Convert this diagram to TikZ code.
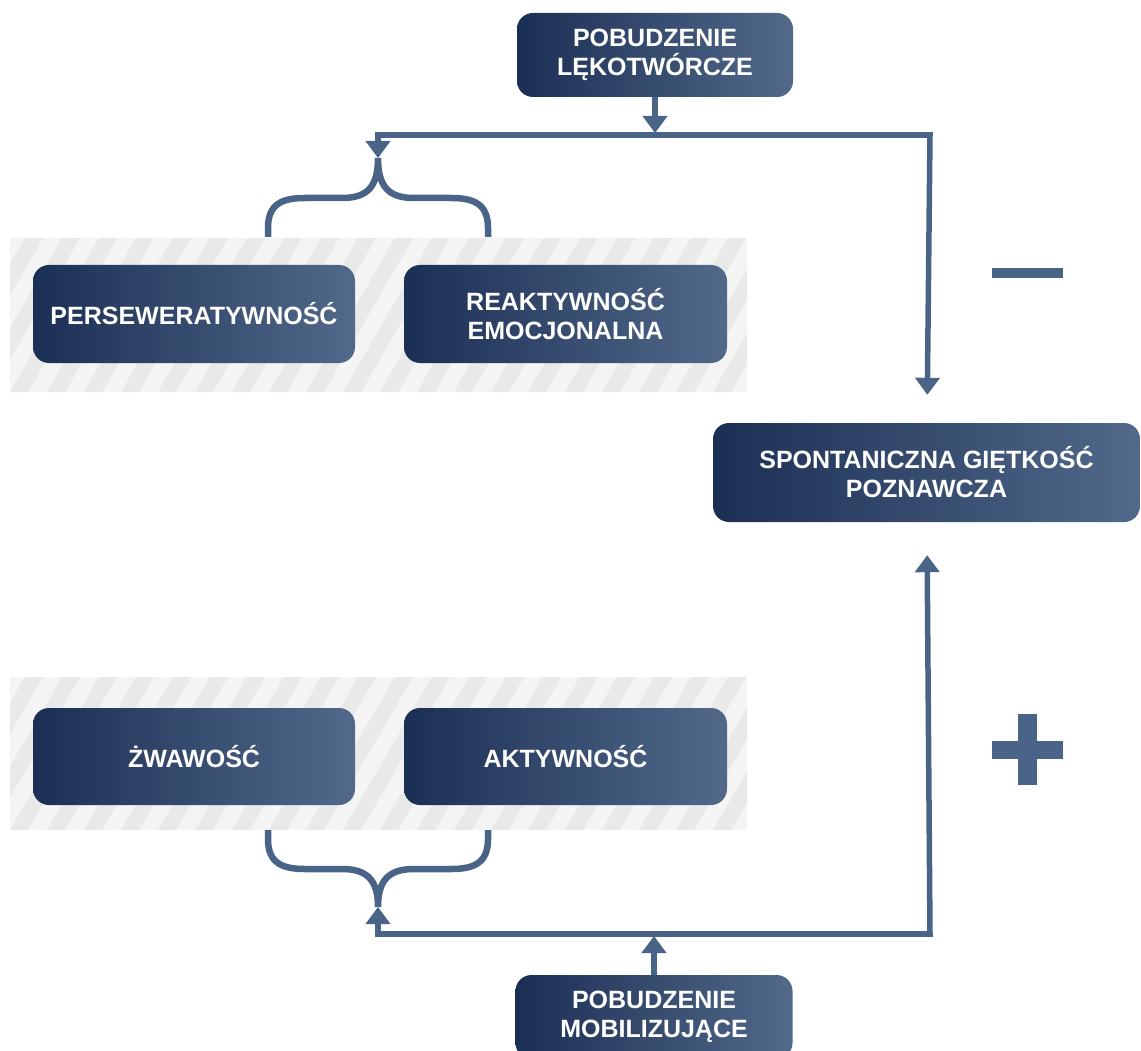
\documentclass[tikz,border=0pt]{standalone}
\usepackage{fontspec}
\setmainfont{Liberation Sans}
\usetikzlibrary{arrows.meta}
\definecolor{navyL}{HTML}{1B2F54}
\definecolor{navyR}{HTML}{52698A}
\definecolor{linec}{HTML}{4A6488}
\definecolor{bandbg}{HTML}{F4F4F4}
\definecolor{bandst}{HTML}{E9E9E9}
\tikzset{
  box/.style={rounded corners=16pt, left color=navyL, right color=navyR, text=white,
    font=\bfseries\fontsize{25}{29}\selectfont, align=center, inner sep=0pt},
  conn/.style={draw=linec, line width=5.5pt},
  tip/.style={-{Triangle[width=24pt,length=17pt]}},
  brace/.style={draw=linec, line width=6.5pt},
}
\begin{document}
\begin{tikzpicture}[x=1pt,y=-1pt]
    \useasboundingbox (0,0) rectangle (1141,1051);
    % hatched bands behind the two pairs of boxes
    \foreach \yt/\yb in {238/392,677/830} {
      \begin{scope}
        \clip (10,\yt) rectangle (747,\yb);
        \fill[bandbg] (10,\yt) rectangle (747,\yb);
        \foreach \i in {-6,...,21}
          \fill[bandst] (10+\i*37,\yb) -- ++(18,0) -- ++(89,\yt-\yb) -- ++(-18,0) -- cycle;
      \end{scope}
    }
    % boxes
    \node[box, minimum width=276pt, minimum height=84pt] (lek) at (655,55) {POBUDZENIE\\LĘKOTWÓRCZE};
    \node[box, minimum width=322pt, minimum height=98pt] (pers) at (194,314) {PERSEWERATYWNOŚĆ};
    \node[box, minimum width=323pt, minimum height=98pt] (reak) at (565.5,314) {REAKTYWNOŚĆ\\EMOCJONALNA};
    \node[box, minimum width=427pt, minimum height=99pt] (spont) at (926.5,472.5) {SPONTANICZNA GIĘTKOŚĆ\\POZNAWCZA};
    \node[box, minimum width=322pt, minimum height=97pt] (zwaw) at (194,756.5) {ŻWAWOŚĆ};
    \node[box, minimum width=323pt, minimum height=97pt] (akty) at (565.5,756.5) {AKTYWNOŚĆ};
    \node[box, minimum width=277pt, minimum height=84pt] (mob) at (654,1017) {POBUDZENIE\\MOBILIZUJĄCE};
    % junctions
    \coordinate (jT) at (655,133);
    \coordinate (cTR) at (930,135);
    \coordinate (cTL) at (378,135);
    \coordinate (bT) at (378,158);
    \coordinate (jB) at (654,936);
    \coordinate (cBR) at (930,934);
    \coordinate (cBL) at (378,934);
    \coordinate (bB) at (378,907);
    % braces
    \draw[brace] (268,237) -- (268,228) .. controls (268,204) and (282,198) .. (305,198) -- (342,198)
      .. controls (368,198) and (378,186) .. (bT)
      .. controls (378,186) and (388,198) .. (414,198) -- (451,198)
      .. controls (474,198) and (488,204) .. (488,228) -- (488,237);
    \draw[brace] (268,830) -- (268,839) .. controls (268,863) and (282,869) .. (305,869) -- (342,869)
      .. controls (368,869) and (378,881) .. (bB)
      .. controls (378,881) and (388,869) .. (414,869) -- (451,869)
      .. controls (474,869) and (488,863) .. (488,839) -- (488,830);
    % connectors
    \draw[conn,tip] (lek) -- (jT);
    \draw[conn,tip] (cTR) -- (cTL) -- (bT);
    \draw[conn,tip,shorten >=28pt] (cTL) -- (cTR) -- (spont);
    \draw[conn,tip] (mob) -- (jB);
    \draw[conn,tip] (cBR) -- (cBL) -- (bB);
    \draw[conn,tip,shorten >=33pt] (cBL) -- (cBR) -- (spont);
    % signs
    \fill[linec] (992,268) rectangle (1063,278);
    \fill[linec] (992,741) rectangle (1063,759);
    \fill[linec] (1018,714) rectangle (1037,785);
\end{tikzpicture}
\end{document}
